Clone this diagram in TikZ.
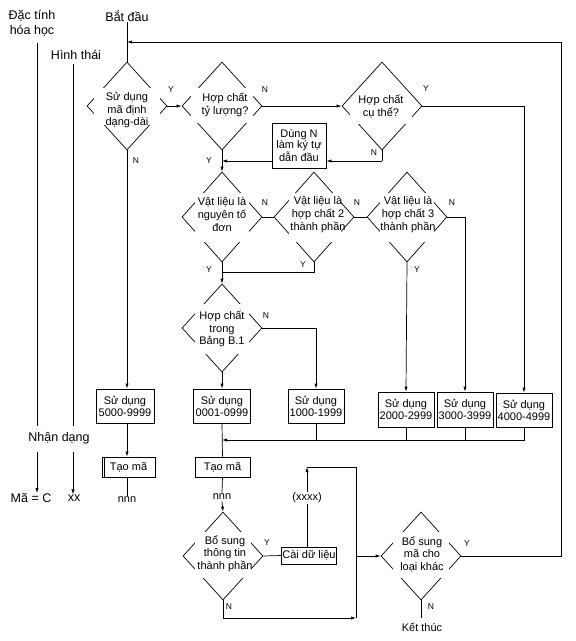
\documentclass[tikz,border=0pt]{standalone}
\usepackage{fontspec}
\setmainfont{Liberation Sans}
\usetikzlibrary{shapes.geometric,arrows.meta}
\newcommand\mfs{\fontsize{11}{12.6}\selectfont}
\newcommand\bfs{\fontsize{11}{11.8}\selectfont}
\newcommand\lfs{\fontsize{8.5}{10}\selectfont}
\newcommand\hfs{\fontsize{12.5}{15}\selectfont}
\newcommand\hidegap[4]{\fill[white] (#1-#3/2,#2-#4/2) rectangle (#1+#3/2,#2+#4/2);}
\begin{document}
\begin{tikzpicture}[x=1pt,y=-1pt,line width=0.7pt,
 dia/.style={diamond,draw,inner sep=0pt,minimum width=80pt,minimum height=88pt},
 diatall/.style={dia,minimum height=90pt},
 dtext/.style={align=center,font=\mfs,inner sep=0pt},
 procbox/.style={draw,align=center,font=\bfs,inner sep=1pt},
 lbl/.style={font=\lfs,inner sep=0pt},
 head/.style={font=\hfs,align=center,inner sep=0pt},
 plain/.style={font=\mfs,inner sep=1pt},
 arr/.style={-{Latex[length=5pt,width=3.2pt]}}]
\useasboundingbox (0,0) rectangle (576,641);

% side labels
\node[head] (lchem) at (32,23.5) {Đặc tính\\hóa học};
\node[head] (lhinh) at (76,55) {Hình thái};
\node[head] (lnhan) at (59,438) {Nhận dạng};
\node[head] (lma) at (31,498) {Mã = C};
\node[head] (lxx) at (74,498) {xx};
\coordinate (a1) at (37,43);
\coordinate (a2) at (37,426);
\coordinate (a3) at (37,452);
\coordinate (h1) at (73,64);
\coordinate (h2) at (73,426);
\coordinate (h3) at (73,452);
\draw (a1) -- (a2);
\draw[arr] (a3) -- (a3 |- lma.north);
\draw (h1) -- (h2);
\draw[arr] (h3) -- (h3 |- lxx.north);

% start
\node[head] (start) at (127,16) {Bắt đầu};

% diamonds
\node[dia] (d1) at (127,106) {};
\node[dia] (d2) at (222,106) {};
\node[dia] (d3) at (382,106) {};
\node[diatall] (d4) at (222,217) {};
\node[diatall] (d5) at (314,217) {};
\node[diatall] (d6) at (407,217) {};
\node[dia] (d7) at (222,328) {};
\node[dia] (d8) at (223,556) {};
\node[dia] (d9) at (421,556) {};

\hidegap{127}{106.5}{66}{37}
\hidegap{222}{105.5}{62}{35}
\hidegap{381}{113}{62}{22}
\hidegap{222}{217.5}{54}{49}
\hidegap{315}{217}{52}{49}
\hidegap{407}{217}{54}{49}
\hidegap{222}{329}{54}{50}
\hidegap{223}{555}{56}{46}
\hidegap{421}{555}{56}{46}

\node[dtext] (d1t) at (127,110) {Sử dụng\\mã định\\dạng-dài};
\node[dtext] (d2t) at (225,105) {Hợp chất\\tỷ lượng?};
\node[dtext] (d3t) at (381,106.5) {Hợp chất\\cụ thể?};
\node[dtext] (d4t) at (222,214.5) {Vật liệu là\\nguyên tố\\đơn};
\node[dtext] (d5t) at (318,214.5) {Vật liệu là\\hợp chất 2\\thành phần};
\node[dtext] (d6t) at (408,214.5) {Vật liệu là\\hợp chất 3\\thành phần};
\node[dtext] (d7t) at (222,329) {Hợp chất\\trong\\Bảng B.1};
\node[dtext] (d8t) at (225,553.5) {Bổ sung\\thông tin\\thành phần};
\node[dtext] (d9t) at (422,554) {Bổ sung\\mã cho\\loại khác};

% boxes
\node[procbox,minimum width=54pt,minimum height=45pt] (dn) at (299,145.5) {Dùng N\\làm ký tự\\dẫn đầu};
\node[procbox,minimum width=58pt,minimum height=34pt] (b5) at (125,406) {Sử dụng\\5000-9999};
\node[procbox,minimum width=57pt,minimum height=34pt] (b0) at (222,406) {Sử dụng\\0001-0999};
\node[procbox,minimum width=56pt,minimum height=34pt] (b1) at (316,406) {Sử dụng\\1000-1999};
\node[procbox,minimum width=56pt,minimum height=35pt] (b2) at (406,409.5) {Sử dụng\\2000-2999};
\node[procbox,minimum width=56pt,minimum height=35pt] (b3) at (465,409.5) {Sử dụng\\3000-3999};
\node[procbox,minimum width=56pt,minimum height=34pt] (b4) at (524,410) {Sử dụng\\4000-4999};
\node[procbox,minimum width=53pt,minimum height=20pt] (t1) at (128.5,467) {Tạo mã};
\draw ([xshift=3pt]t1.north west) -- ([xshift=3pt]t1.south west);
\node[procbox,minimum width=55pt,minimum height=20pt] (t2) at (222.5,467) {Tạo mã};
\node[procbox,minimum width=54pt,minimum height=17pt] (cd) at (309,555.5) {Cài dữ liệu};

\node[plain] (nnn1) at (127,500) {nnn};
\node[plain] (nnn2) at (222,497) {nnn};
\node[plain] (xx4) at (307,498) {(xxxx)};
\node[plain] (stop) at (422,627) {Kết thúc};

% Y/N labels
\node[lbl] (y1) at (171,90) {Y};
\node[lbl] (n1) at (136,161) {N};
\node[lbl] (n2) at (265,90) {N};
\node[lbl] (y2) at (209,161) {Y};
\node[lbl] (y3) at (426,89) {Y};
\node[lbl] (n3) at (374,153) {N};
\node[lbl] (n4) at (265,203) {N};
\node[lbl] (n5) at (357,203) {N};
\node[lbl] (n6) at (452,203) {N};
\node[lbl] (y4) at (209,270) {Y};
\node[lbl] (y5) at (303,265) {Y};
\node[lbl] (y6) at (417,270) {Y};
\node[lbl] (n7) at (266,316) {N};
\node[lbl] (y8) at (267,543) {Y};
\node[lbl] (n8) at (229,607) {N};
\node[lbl] (y9) at (467,544) {Y};
\node[lbl] (n9) at (431,607) {N};

% coordinates
\coordinate (lp1) at (561,42);
\coordinate (lp2) at (127,42);
\coordinate (c1) at (382,161);
\coordinate (j2) at (222,272);
\coordinate (bus) at (222,440);
\coordinate (k1) at (307,467);
\coordinate (k2) at (356,618);
\coordinate (k3) at (356,556);
\coordinate (e9) at (421,618);

% connectors
\draw (start) -- (d1.north);
\draw[arr] (d1.east) -- (d2.west);
\draw[arr] (d2.east) -- (d3.west);
\draw[arr] (d3.east) -| (b4.north);
\draw (d3.south) -- (c1);
\draw[arr] (c1) -- (c1 -| dn.east);
\draw[arr] (c1 -| dn.west) -- (c1 -| d2.south);
\draw[arr] (d2.south) -- (d4.north);
\draw (d4.east) -- (d5.west);
\draw (d5.east) -- (d6.west);
\draw[arr] (d6.east) -| (b3.north);
\draw[arr] (d6.south) -- (b2.north);
\draw[arr] (d4.south) -- (d7.north);
\draw (d5.south) |- (j2);
\draw[arr] (d7.east) -| (b1.north);
\draw[arr] (d7.south) -- (b0.north);
\draw[arr] (d1.south) -- (d1.south |- b5.north);
\draw[arr] (d1.south |- b5.south) -- (d1.south |- t1.north);
\draw (d1.south |- t1.south) -- (nnn1.north);
\draw[arr] (b4.south) |- (bus);
\draw (b3.south) -- (b3.south |- bus);
\draw (b2.south) -- (b2.south |- bus);
\draw (b1.south) -- (b1.south |- bus);
\draw (b0.south) -- (t2.north);
\draw (t2.south) -- (nnn2.north);
\draw[arr] (nnn2.south) -- (d8.north);
\draw (d8.east) -- (cd.west);
\draw (xx4.south |- cd.north) -- (xx4.south);
\draw[arr] (xx4.north) -- (k1);
\draw (k1) -| (k2);
\draw[arr] (d8.south) |- (k2);
\draw[arr] (k3) -- (d9.west);
\draw[arr] (d9.east) -| (lp1) -- (lp2);
\draw (d9.south) -- (e9);
\end{tikzpicture}
\end{document}
